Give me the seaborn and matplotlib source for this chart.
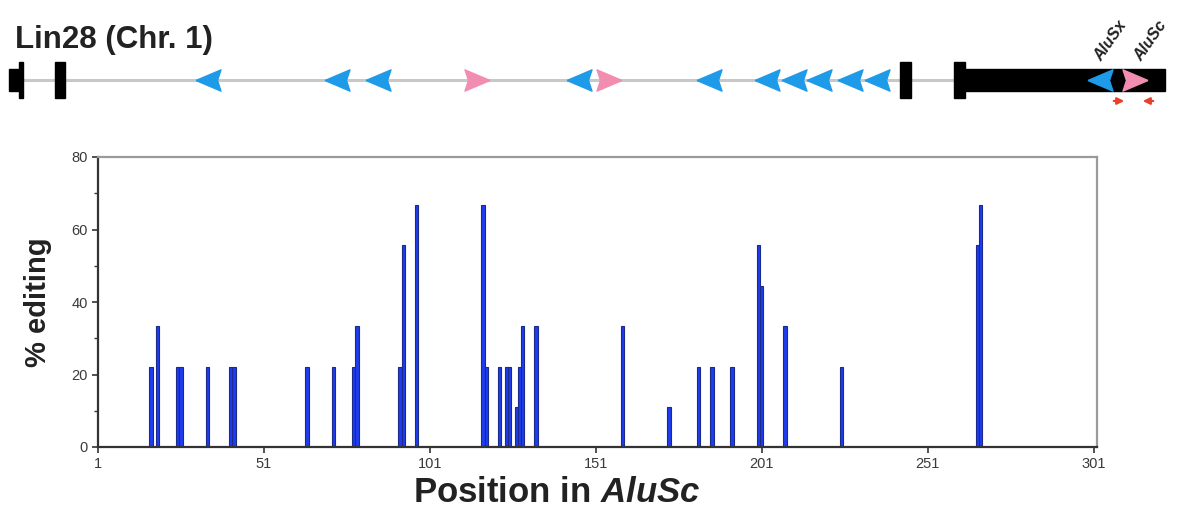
import matplotlib
matplotlib.use('Agg')
import matplotlib.pyplot as plt
from matplotlib.patches import Rectangle
import pandas as pd
import seaborn as sns

# editing sites inside the AluSc element: position and % editing
positions = [17, 19, 25, 26, 34, 41, 42, 64, 72, 78, 79, 92, 93, 97,
             117, 118, 122, 124, 125, 127, 128, 129, 133, 159, 173,
             182, 186, 192, 200, 201, 208, 225, 266, 267]
editing = [22.2, 33.3, 22.2, 22.2, 22.2, 22.2, 22.2, 22.2, 22.2, 22.2, 33.3, 22.2, 55.6, 66.7,
           66.7, 22.2, 22.2, 22.2, 22.2, 11.1, 22.2, 33.3, 33.3, 33.3, 11.1,
           22.2, 22.2, 22.2, 55.6, 44.4, 33.3, 22.2, 55.6, 66.7]
x_ticks = [1, 51, 101, 151, 201, 251, 301]
y_ticks = [0, 20, 40, 60, 80]

# gene model (horizontal units of the schematic)
gene_title = "Lin28 (Chr. 1)"
intron_span = (10, 965)
utr5_span = (9, 21)
exon_starts = [55, 900, 954]
exon_ends = [65, 911, 965]
utr3_span = (965, 1165)
alu_minus = [208, 337, 378, 579, 709, 767, 794, 819, 850, 877, 1100]
alu_plus = [477, 609, 1135]
alu_names = ['AluSx', 'AluSc']
alu_name_x = [1100, 1140]
primer_x = [1119, 1148]
primer_dir = [1, -1]

BAR_BLUE = '#1f3cf0'
BAR_EDGE = '#1a2a8c'
ARROW_BLUE = '#1e9be8'
ARROW_PINK = '#f28db2'
PRIMER_RED = '#e8402a'

sns.set_style('white')
plt.rcParams['font.family'] = ['Liberation Sans', 'DejaVu Sans']
plt.rcParams['mathtext.fontset'] = 'custom'
plt.rcParams['mathtext.it'] = 'Liberation Sans:italic:bold'
plt.rcParams['mathtext.bf'] = 'Liberation Sans:bold'
plt.rcParams['mathtext.rm'] = 'Liberation Sans:bold'

fig = plt.figure(figsize=(11.84, 5.17), dpi=100)

# ---- gene schematic ----
top_h = 140 / 517
gax = fig.add_axes([0, 1 - top_h, 1, top_h])
gax.set_xlim(0, 1184)
gax.set_ylim(140, 0)
gax.axis('off')

line_y = 80
gax.plot(intron_span, [line_y, line_y], color='#c8c8c8', lw=2.2, zorder=1)
gax.add_patch(Rectangle((utr5_span[0], line_y - 11), utr5_span[1] - utr5_span[0], 22,
                        color='black', zorder=2))
gax.add_patch(Rectangle((utr5_span[1] - 2, line_y - 18), 4, 36, color='black', zorder=2))
for s, e in zip(exon_starts, exon_ends):
    gax.add_patch(Rectangle((s, line_y - 18), e - s, 36, color='black', zorder=2))
gax.add_patch(Rectangle((utr3_span[0], line_y - 11), utr3_span[1] - utr3_span[0], 22,
                        color='black', zorder=2))

left_dart = [(-1, 0), (1, 0.85), (0.72, 0), (1, -0.85), (-1, 0)]
right_dart = [(-x, y) for x, y in left_dart]
gax.plot(alu_minus, [line_y] * len(alu_minus), ls='none', marker=left_dart,
         ms=18, color=ARROW_BLUE, mec=ARROW_BLUE, zorder=3)
gax.plot(alu_plus, [line_y] * len(alu_plus), ls='none', marker=right_dart,
         ms=18, color=ARROW_PINK, mec=ARROW_PINK, zorder=3)

for name, x in zip(alu_names, alu_name_x):
    gax.text(x + 4, line_y - 16, name, rotation=55, rotation_mode='anchor',
             ha='left', va='bottom', fontsize=11.5, fontstyle='italic',
             fontweight='bold', color='#222222')

for x, d in zip(primer_x, primer_dir):
    gax.annotate('', xy=(x + 8 * d, line_y + 21), xytext=(x - 8 * d, line_y + 21),
                 arrowprops=dict(arrowstyle='-|>', color=PRIMER_RED, lw=1.6,
                                 mutation_scale=10))

gax.text(15, 40, gene_title, fontsize=22.5, fontweight='bold', va='center',
         ha='left', color='#222222')

# ---- editing bar chart ----
ax = fig.add_axes([98 / 1184, 70 / 517, 999 / 1184, 290 / 517])
df = pd.DataFrame({'position': positions, 'editing': editing})
sns.barplot(data=df, x='position', y='editing', native_scale=True, width=1.0,
            color=BAR_BLUE, saturation=1, edgecolor=BAR_EDGE, linewidth=0.8,
            errorbar=None, ax=ax)

ax.set_xlim(1, 302)
ax.set_ylim(0, 80)
ax.set_xticks(x_ticks)
ax.set_xticklabels([str(t) for t in x_ticks])
ax.set_yticks(y_ticks)
ax.set_yticks([10, 30, 50, 70], minor=True)
ax.tick_params(axis='both', which='major', labelsize=10.5, labelcolor='#3a3a3a',
               color='#333333', direction='out', length=4, width=1.2, bottom=True, left=True)
ax.tick_params(axis='y', which='minor', direction='out', length=3, width=1.0,
               color='#333333', left=True)

for side in ['left', 'bottom']:
    ax.spines[side].set_color('#333333')
    ax.spines[side].set_linewidth(1.6)
for side in ['top', 'right']:
    ax.spines[side].set_color('#9a9a9a')
    ax.spines[side].set_linewidth(1.6)

ax.set_ylabel('% editing', fontsize=21, fontweight='bold', color='#222222', labelpad=14)
ax.set_xlabel(r'Position in $\mathit{AluSc}$', fontsize=25, fontweight='bold',
              color='#222222')
ax.xaxis.set_label_coords(0.459, -0.1)

plt.savefig('out.png', dpi=100)
